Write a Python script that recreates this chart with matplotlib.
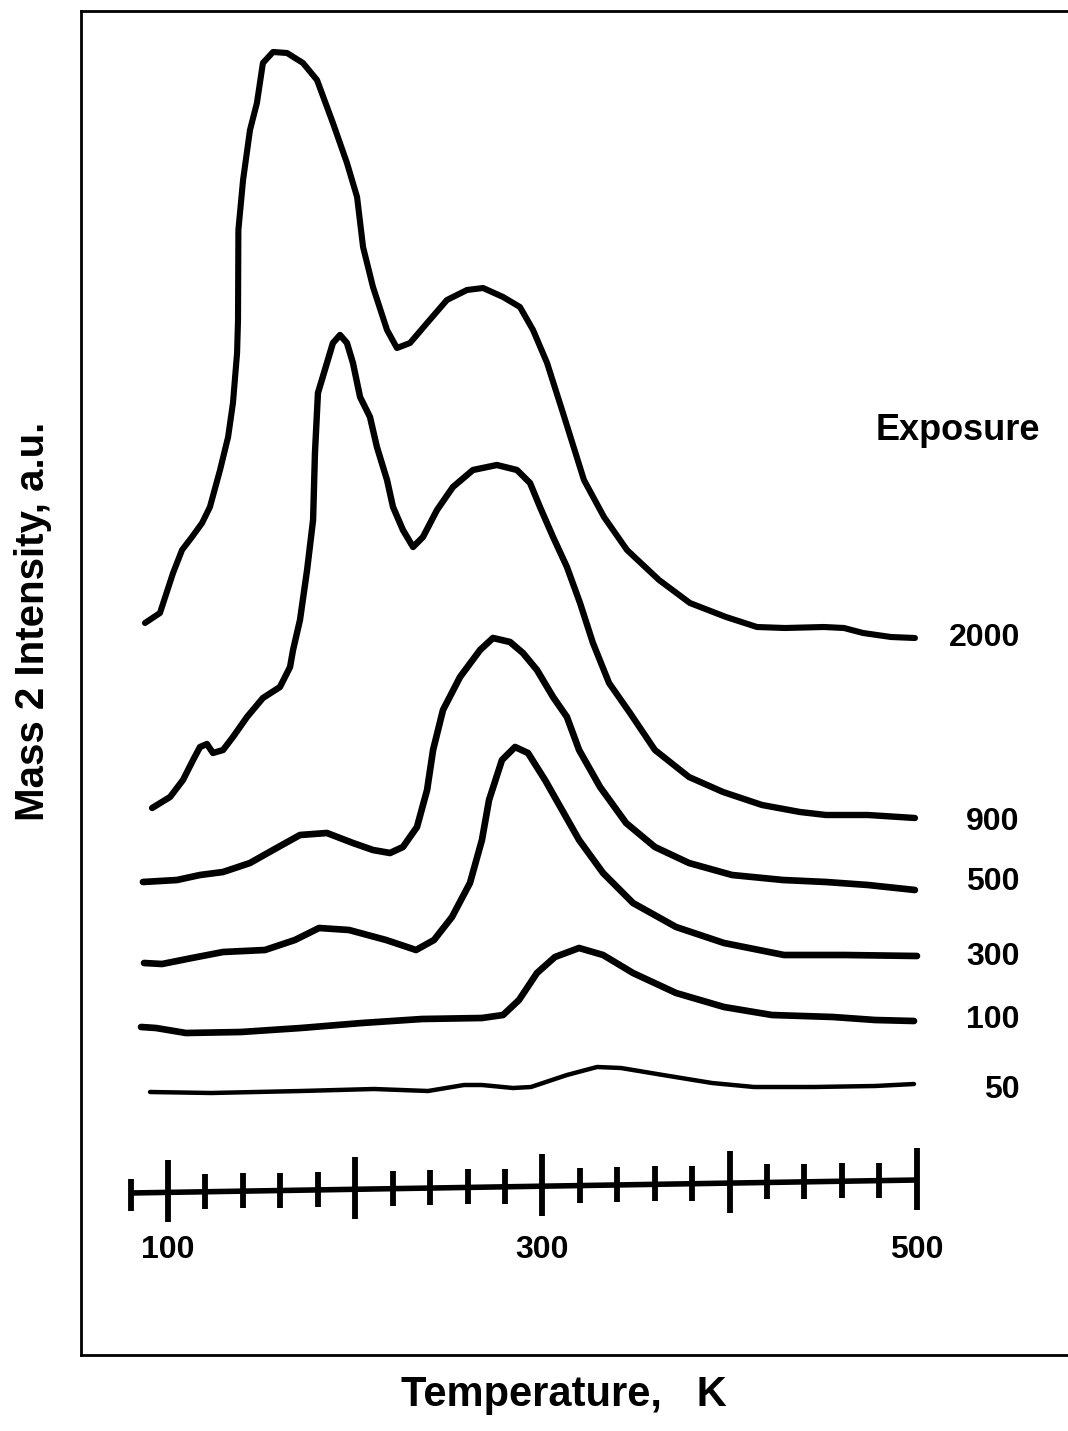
import numpy as np
import matplotlib
matplotlib.use("Agg")
import matplotlib.pyplot as plt

plt.rcParams['font.family'] = ['Liberation Sans', 'DejaVu Sans']

# ---- data (temperature in K, intensity in a.u., curves offset vertically) ----
t_2000 = [87.7, 95.7, 102.7, 107.5, 112.8, 118.2, 122.4, 127.8, 132.1, 134.7, 136.9, 137.4,
          137.6, 140.1, 143.8, 147.5, 150.7, 156.1, 163.6, 172.1, 179.6, 188.1, 195.6, 201.0,
          204.2, 209.5, 217.0, 222.3, 229.3, 238.4, 249.0, 259.7, 268.3, 279.0, 288.0, 295.0,
          302.5, 311.0, 322.2, 332.9, 345.2, 362.3, 378.8, 398.1, 414.6, 429.6, 450.4, 461.1,
          471.3, 486.2, 499.0]
i_2000 = [56.7, 57.7, 61.7, 64.0, 65.3, 66.7, 68.3, 72.0, 75.3, 78.7, 83.7, 87.0,
          96.0, 101.0, 106.0, 108.7, 112.7, 113.8, 113.7, 112.7, 111.0, 106.7, 102.7, 99.3,
          94.3, 90.3, 86.0, 84.2, 84.7, 86.7, 89.0, 90.0, 90.2, 89.3, 88.3, 86.0,
          82.7, 77.7, 71.0, 67.3, 64.0, 61.0, 58.7, 57.3, 56.3, 56.2, 56.3, 56.2,
          55.7, 55.3, 55.2]

t_900 = [91.5, 101.1, 108.0, 113.4, 117.1, 120.8, 124.0, 129.4, 134.7, 142.2, 150.7, 159.8,
         165.2, 166.8, 170.5, 174.3, 177.5, 178.5, 180.1, 184.9, 188.1, 191.9, 195.6, 198.8,
         202.6, 207.9, 211.6, 217.0, 220.2, 225.5, 230.9, 236.2, 243.7, 252.2, 262.9, 275.7,
         286.4, 293.4, 298.7, 305.7, 313.1, 320.1, 327.0, 335.6, 346.8, 360.1, 378.3, 396.5,
         417.3, 437.6, 451.5, 473.9, 499.0]
i_900 = [38.2, 39.3, 41.0, 43.0, 44.3, 44.6, 43.7, 44.0, 45.3, 47.3, 49.2, 50.3,
         52.3, 54.0, 57.0, 62.0, 67.0, 73.7, 79.7, 82.7, 84.7, 85.5, 84.7, 82.7,
         79.3, 77.3, 74.3, 71.0, 68.3, 66.0, 64.3, 65.3, 68.0, 70.3, 72.0, 72.5,
         72.0, 70.7, 68.3, 65.3, 62.3, 58.7, 54.7, 50.7, 47.7, 44.0, 41.3, 39.8,
         38.5, 37.8, 37.5, 37.5, 37.2]

t_500 = [86.6, 104.8, 117.1, 129.4, 143.8, 156.1, 170.5, 184.9, 198.8, 209.5, 218.6, 225.5,
         233.0, 238.4, 241.6, 246.9, 256.0, 266.7, 273.6, 282.7, 289.6, 297.1, 305.7, 313.1,
         319.6, 330.8, 344.7, 360.1, 378.3, 401.3, 428.5, 451.5, 473.9, 499.0]
i_500 = [30.8, 31.0, 31.5, 31.8, 32.7, 34.0, 35.5, 35.7, 34.7, 34.0, 33.7, 34.3,
         36.3, 40.0, 44.0, 48.0, 51.3, 54.0, 55.2, 54.8, 53.7, 52.0, 49.3, 47.3,
         44.0, 40.3, 36.7, 34.3, 32.7, 31.5, 31.0, 30.8, 30.5, 30.0]

t_300 = [87.2, 96.8, 112.8, 129.4, 151.8, 167.8, 180.7, 196.7, 216.5, 232.5, 242.1, 251.7,
         261.3, 267.7, 271.5, 278.4, 285.4, 292.3, 301.4, 310.5, 319.6, 332.4, 348.4, 371.4,
         397.0, 429.1, 461.6, 500.1]
i_300 = [22.7, 22.6, 23.2, 23.8, 24.0, 25.0, 26.2, 26.0, 25.0, 24.0, 25.0, 27.3,
         30.7, 35.0, 39.0, 43.0, 44.3, 43.7, 41.0, 38.0, 35.0, 31.7, 28.7, 26.3,
         24.7, 23.5, 23.5, 23.4]

t_100 = [85.6, 93.6, 109.6, 139.0, 171.0, 203.6, 235.7, 267.7, 279.0, 287.5, 297.1, 306.7,
         319.6, 332.4, 348.4, 371.4, 397.0, 422.6, 455.2, 477.7, 498.5]
i_100 = [16.3, 16.2, 15.7, 15.8, 16.2, 16.7, 17.1, 17.2, 17.5, 19.0, 21.7, 23.3,
         24.2, 23.5, 21.7, 19.7, 18.3, 17.5, 17.3, 17.0, 16.9]

t_50 = [90.4, 123.0, 171.0, 210.0, 238.9, 258.1, 267.7, 284.3, 293.9, 313.1, 329.2, 342.0,
        364.4, 390.6, 413.0, 445.1, 477.7, 498.5]
i_50 = [9.8, 9.7, 9.9, 10.1, 9.9, 10.5, 10.5, 10.2, 10.3, 11.5, 12.3, 12.2,
        11.5, 10.7, 10.3, 10.3, 10.4, 10.6]

exposures = ["2000", "900", "500", "300", "100", "50"]
label_levels = [55.2, 36.8, 30.8, 23.3, 17.0, 10.0]

ruler_ticks = list(range(80, 501, 20))
major_ticks = [100, 200, 300, 400, 500]
tick_labels = ["100", "300", "500"]
tick_label_values = [100, 300, 500]

# ---- figure ----
W, H = 1068, 1431
fig = plt.figure(figsize=(W / 100, H / 100), dpi=100)
ax = fig.add_axes([81 / W, (H - 1355) / H, (1075 - 81) / W, (1355 - 11) / H])
T0 = 100 - (168 - 81) / 1.872
T1 = 100 + (1075 - 168) / 1.872
ax.set_xlim(T0, T1)
ax.set_ylim(-16.5, 117.9)
ax.set_xticks([])
ax.set_yticks([])
for s in ax.spines.values():
    s.set_linewidth(2.0)
    s.set_color('black')
ax.spines['right'].set_visible(False)

series = [(t_2000, i_2000, 4.4), (t_900, i_900, 4.6), (t_500, i_500, 4.8),
          (t_300, i_300, 4.8), (t_100, i_100, 4.8), (t_50, i_50, 3.2)]
for t, v, lw in series:
    ax.plot(t, v, color='black', lw=lw, solid_capstyle='round', solid_joinstyle='round')

# exposure labels
for lab, lv in zip(exposures, label_levels):
    ax.text(555, lv, lab, ha='right', va='center', fontsize=23, fontweight='bold')
ax.text(566, 76, "Exposure", ha='right', va='center', fontsize=26, fontweight='bold')

# temperature ruler drawn inside the plot
ax.plot([80, 500], [-0.3, 1.0], color='black', lw=4, solid_capstyle='butt')
for tk in ruler_ticks:
    base = -0.3 + (tk - 80) / 420 * 1.3
    if tk in major_ticks:
        ax.vlines(tk, base - 3.0, base + 3.2, color='black', lw=4.2)
    elif tk == 80:
        ax.vlines(tk, base - 1.8, base + 1.4, color='black', lw=4.2)
    else:
        ax.vlines(tk, base - 1.7, base + 1.8, color='black', lw=4.2)
for lab, tv in zip(tick_labels, tick_label_values):
    ax.text(tv, -6.0, lab, ha='center', va='center', fontsize=23, fontweight='bold')

fig.text(564 / W, 1 - 1395 / H, "Temperature,   K", ha='center', va='center',
         fontsize=30, fontweight='bold')
fig.text(33 / W, 1 - 621 / H, "Mass 2 Intensity, a.u.", ha='center', va='center',
         rotation=90, fontsize=29, fontweight='bold')

fig.savefig("out.png", dpi=100)
